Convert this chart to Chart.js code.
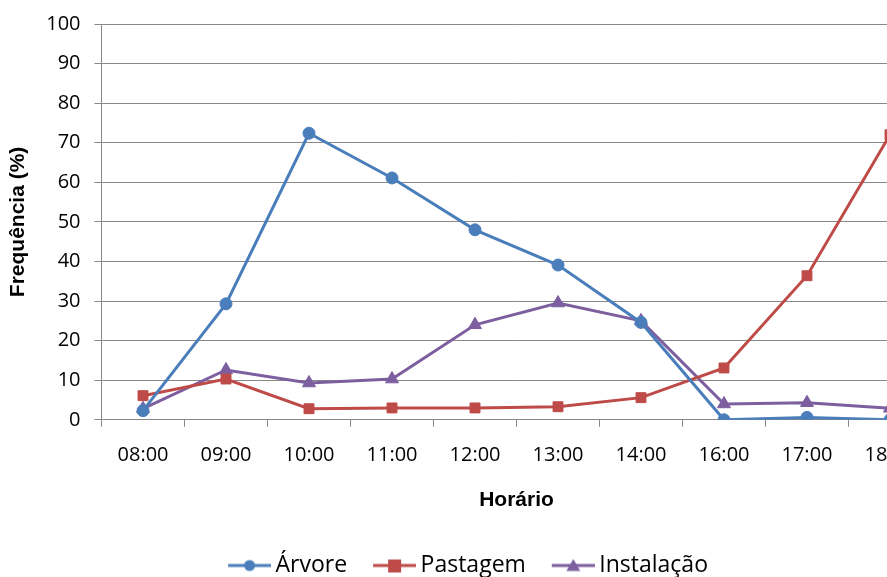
<!DOCTYPE html>
<html>
<head>
<meta charset="utf-8">
<script src="https://cdn.jsdelivr.net/npm/chart.js@4.4.0/dist/chart.umd.min.js"></script>
<style>
  body { margin: 0; overflow: hidden; background: #fff; }
  #wrap { width: 940px; height: 587px; }
</style>
</head>
<body>
<div id="wrap"><canvas id="grafico" width="940" height="587"></canvas></div>
<script>
// horarios e frequencias (%)
let horarios = ["08:00", "09:00", "10:00", "11:00", "12:00", "13:00", "14:00", "16:00", "17:00", "18:00"];
let arvore = [2.3, 29.3, 72.4, 61.1, 48.0, 39.1, 24.6, 0, 0.6, 0];
let pastagem = [6.1, 10.3, 2.8, 3.0, 3.0, 3.3, 5.6, 13.1, 36.4, 72.0];
let instalacao = [2.8, 12.6, 9.3, 10.3, 24.0, 29.5, 25.0, 4.0, 4.3, 2.9];
let ticksY = [0, 10, 20, 30, 40, 50, 60, 70, 80, 90, 100];

const fonte = "'Open Sans', sans-serif";
const fonteTitulo = "'Liberation Sans', Arial, sans-serif";
const cores = { arvore: "#4A7EBB", pastagem: "#BE4B48", instalacao: "#7D5FA0" };

// icone da legenda: linha + marcador
function iconeLegenda(cor, tipo) {
    let c = document.createElement("canvas");
    c.width = 60; c.height = 16;
    let ctx = c.getContext("2d");
    ctx.strokeStyle = cor; ctx.fillStyle = cor; ctx.lineWidth = 3;
    ctx.beginPath(); ctx.moveTo(17, 8); ctx.lineTo(60, 8); ctx.stroke();
    ctx.beginPath();
    if (tipo == "circle") { ctx.arc(38.5, 8, 5.5, 0, Math.PI * 2); }
    else if (tipo == "rect") { ctx.rect(32, 2, 13, 13); }
    else { ctx.moveTo(38.5, 1.5); ctx.lineTo(45.5, 13.5); ctx.lineTo(31.5, 13.5); ctx.closePath(); }
    ctx.fill();
    return c;
}

let serie = (nome, dados, cor, estilo, raio) => ({
    label: nome,
    data: dados,
    borderColor: cor,
    backgroundColor: cor,
    borderWidth: 3,
    pointStyle: estilo,
    pointRadius: raio,
    pointHoverRadius: raio,
    pointBorderWidth: 1,
    tension: 0,
    icone: iconeLegenda(cor, estilo)
});

const data = {
    labels: horarios,
    datasets: [
        serie("Árvore", arvore, cores.arvore, "circle", 6),
        serie("Pastagem", pastagem, cores.pastagem, "rect", 7),
        serie("Instalação", instalacao, cores.instalacao, "triangle", 7.5)
    ]
};

const config = {
    type: "line",
    data: data,
    options: {
        responsive: false,
        animation: false,
        layout: { padding: { left: 6, right: 8, top: 10, bottom: 0 } },
        plugins: {
            tooltip: { enabled: false },
            legend: {
                position: "bottom",
                labels: {
                    usePointStyle: true,
                    pointStyleWidth: 46,
                    padding: 4,
                    color: "#000",
                    font: { family: fonte, size: 23 },
                    // espacos no fim do texto = distancia ate o proximo item
                    generateLabels: (chart) => chart.data.datasets.map((ds, i) => ({
                        text: ds.label + "  ",
                        pointStyle: ds.icone,
                        fillStyle: ds.borderColor,
                        strokeStyle: ds.borderColor,
                        lineWidth: 0,
                        datasetIndex: i,
                        fontColor: "#000"
                    }))
                }
            }
        },
        scales: {
            x: {
                offset: true,
                grid: { display: true, drawOnChartArea: false, drawTicks: true, tickLength: 7, color: "#888", offset: true },
                border: { color: "#888" },
                ticks: { color: "#000", font: { family: fonte, size: 20 }, padding: 16, maxRotation: 0 },
                title: { display: true, text: "Horário", color: "#000", font: { family: fonteTitulo, size: 21, weight: "bold" }, padding: { top: 5, bottom: 37 } }
            },
            y: {
                min: 0,
                max: 100,
                afterBuildTicks: (eixo) => { eixo.ticks = ticksY.map(v => ({ value: v })); },
                grid: { color: "#888", tickLength: 7 },
                border: { color: "#888" },
                ticks: { color: "#000", font: { family: fonte, size: 20, lineHeight: 1 }, padding: 14 },
                title: { display: true, text: "Frequência (%)", color: "#000", font: { family: fonteTitulo, size: 21, weight: "bold" }, padding: { top: 0, bottom: 1 } }
            }
        }
    }
};

const myChart = new Chart(document.getElementById("grafico"), config);
</script>
</body>
</html>
